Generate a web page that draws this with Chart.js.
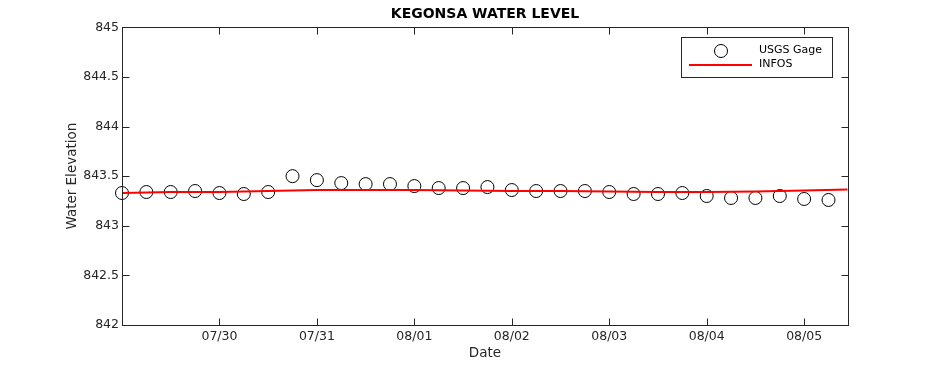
<!DOCTYPE html>
<html>
<head>
<meta charset="utf-8">
<script src="https://cdn.jsdelivr.net/npm/chart.js@4"></script>
<style>
  html, body { margin: 0; padding: 0; background: #fff; }
</style>
</head>
<body>
<canvas id="chart" width="938" height="365"></canvas>
<script>
// USGS gage readings, every 6 hours
const gageTimes = [
  '07/29 00:00', '07/29 06:00', '07/29 12:00', '07/29 18:00',
  '07/30 00:00', '07/30 06:00', '07/30 12:00', '07/30 18:00',
  '07/31 00:00', '07/31 06:00', '07/31 12:00', '07/31 18:00',
  '08/01 00:00', '08/01 06:00', '08/01 12:00', '08/01 18:00',
  '08/02 00:00', '08/02 06:00', '08/02 12:00', '08/02 18:00',
  '08/03 00:00', '08/03 06:00', '08/03 12:00', '08/03 18:00',
  '08/04 00:00', '08/04 06:00', '08/04 12:00', '08/04 18:00',
  '08/05 00:00', '08/05 06:00'
];
const gageLevels = [
  843.33, 843.34, 843.34, 843.35, 843.33, 843.32, 843.34, 843.50,
  843.46, 843.43, 843.42, 843.42, 843.40, 843.38, 843.38, 843.39,
  843.36, 843.35, 843.35, 843.35, 843.34, 843.32, 843.32, 843.33,
  843.30, 843.28, 843.28, 843.30, 843.27, 843.26
];

// INFOS model output
const infosTimes = [
  '07/29 00:00', '07/29 12:00', '07/30 00:00', '07/30 12:00',
  '07/31 00:00', '07/31 12:00', '08/01 00:00', '08/01 12:00',
  '08/02 00:00', '08/02 12:00', '08/03 00:00', '08/03 12:00',
  '08/04 00:00', '08/04 12:00', '08/05 00:00', '08/05 10:40'
];
const infosLevels = [
  843.33, 843.34, 843.34, 843.35, 843.36, 843.36, 843.36, 843.355,
  843.35, 843.35, 843.345, 843.34, 843.34, 843.345, 843.355, 843.365
];

const dateTicks = ['07/30 00:00', '07/31 00:00', '08/01 00:00', '08/02 00:00', '08/03 00:00', '08/04 00:00', '08/05 00:00'];
const dateLabels = ['07/30', '07/31', '08/01', '08/02', '08/03', '08/04', '08/05'];
const elevationTicks = [842, 842.5, 843, 843.5, 844, 844.5, 845];

const FONT = 'DejaVu Sans';
const INK = '#262626';

// days since 07/29 00:00
function toDays(s) {
  const [md, hm] = s.split(' ');
  const [m, d] = md.split('/').map(Number);
  const [h, mi] = hm.split(':').map(Number);
  return (Date.UTC(2000, m - 1, d, h, mi) - Date.UTC(2000, 6, 29)) / 86400000;
}

const tickDays = dateTicks.map(toDays);

const frame = {
  id: 'frame',
  afterDraw(chart) {
    const {ctx, chartArea: a, scales: {x, y}} = chart;
    const L = Math.round(a.left) + 0.5, R = Math.round(a.right) + 0.5;
    const T = Math.round(a.top) + 0.5, B = Math.round(a.bottom) + 0.5;
    const len = 7;
    ctx.save();
    ctx.strokeStyle = INK;
    ctx.lineWidth = 1;
    ctx.strokeRect(L, T, R - L, B - T);
    ctx.beginPath();
    tickDays.forEach(v => {
      const px = Math.round(x.getPixelForValue(v)) + 0.5;
      ctx.moveTo(px, B); ctx.lineTo(px, B - len);
      ctx.moveTo(px, T); ctx.lineTo(px, T + len);
    });
    elevationTicks.forEach(v => {
      const py = Math.round(y.getPixelForValue(v)) + 0.5;
      ctx.moveTo(L, py); ctx.lineTo(L + len, py);
      ctx.moveTo(R, py); ctx.lineTo(R - len, py);
    });
    ctx.stroke();

    // legend
    const bx = 681.5, by = 37.5, bw = 151, bh = 40;
    ctx.fillStyle = '#fff';
    ctx.fillRect(bx, by, bw, bh);
    ctx.strokeRect(bx, by, bw, bh);
    const gage = chart.data.datasets[1], infos = chart.data.datasets[0];
    ctx.beginPath();
    ctx.arc(721, 51, 6.5, 0, Math.PI * 2);
    ctx.strokeStyle = '#000';
    ctx.stroke();
    ctx.beginPath();
    ctx.moveTo(689, 65); ctx.lineTo(752, 65);
    ctx.strokeStyle = infos.borderColor;
    ctx.lineWidth = 2;
    ctx.stroke();
    ctx.fillStyle = '#000';
    ctx.font = '11px "' + FONT + '"';
    ctx.textBaseline = 'middle';
    ctx.fillText(gage.label, 759, 50);
    ctx.fillText(infos.label, 759, 64);
    ctx.restore();
  }
};

new Chart(document.getElementById('chart'), {
  type: 'scatter',
  data: {
    datasets: [{
      label: 'INFOS',
      type: 'line',
      data: infosTimes.map((t, i) => ({x: toDays(t), y: infosLevels[i]})),
      borderColor: '#ff0000',
      borderWidth: 2,
      pointRadius: 0,
      tension: 0,
      order: 0
    }, {
      label: 'USGS Gage',
      data: gageTimes.map((t, i) => ({x: toDays(t), y: gageLevels[i]})),
      showLine: false,
      pointStyle: 'circle',
      pointRadius: 6.5,
      borderColor: '#000',
      borderWidth: 1,
      backgroundColor: 'rgba(0,0,0,0)',
      clip: false,
      order: 1
    }]
  },
  options: {
    responsive: false,
    animation: false,
    layout: { padding: { left: 0, right: 90, top: 0, bottom: 0 } },
    plugins: {
      legend: { display: false },
      tooltip: { enabled: false },
      title: {
        display: true,
        text: 'KEGONSA WATER LEVEL',
        fullSize: false,
        color: '#000',
        font: { family: FONT, size: 14, weight: 'bold' },
        padding: { top: 6, bottom: 4.5 }
      }
    },
    scales: {
      x: {
        type: 'linear',
        min: 0,
        max: 7.45,
        grid: { display: false, drawTicks: false },
        border: { display: false },
        afterBuildTicks: s => { s.ticks = tickDays.map(v => ({value: v})); },
        afterFit: s => { s.height = 40; },
        ticks: {
          color: INK,
          padding: 4,
          maxRotation: 0,
          font: { family: FONT, size: 12.5 },
          callback: (v) => dateLabels[tickDays.findIndex(d => Math.abs(d - v) < 1e-6)]
        },
        title: {
          display: true,
          text: 'Date',
          color: INK,
          font: { family: FONT, size: 13.5 },
          padding: { top: 0, bottom: 3 }
        }
      },
      y: {
        min: 842,
        max: 845,
        grid: { display: false, drawTicks: false },
        border: { display: false },
        afterBuildTicks: s => { s.ticks = elevationTicks.map(v => ({value: v})); },
        afterFit: s => { s.width = 122; },
        ticks: {
          color: INK,
          padding: 3,
          font: { family: FONT, size: 12.5 },
          callback: v => String(v)
        },
        title: {
          display: true,
          text: 'Water Elevation',
          color: INK,
          font: { family: FONT, size: 13.5 },
          padding: { top: 64, bottom: 0 }
        }
      }
    }
  },
  plugins: [frame]
});
</script>
</body>
</html>
